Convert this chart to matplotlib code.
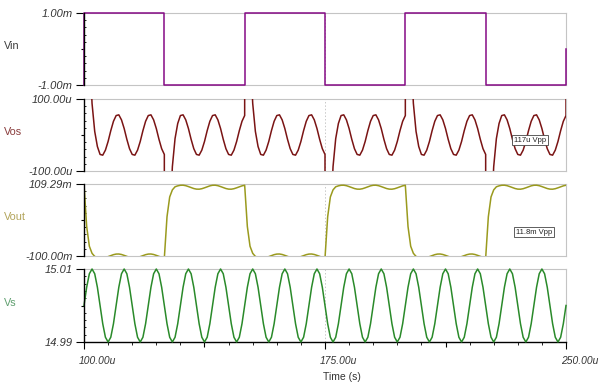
import numpy as np
import matplotlib.pyplot as plt
import matplotlib.transforms as mtransforms
from matplotlib.ticker import FixedLocator

plt.rcParams['font.family'] = ['Liberation Sans', 'DejaVu Sans']

# time in us; Vs cycle is 10 us, read at 12 points per cycle
cycle_us = 10.0
samples_per_cycle = 12
edge_times = [100, 125, 150, 175, 200, 225, 250]

# Vin (mV) between edges, and where it ends at 250u
vin_levels = [1.0, -1.0, 1.0, -1.0, 1.0, -1.0]
vin_end = 0.0

# one Vs cycle (V)
vs_cycle = [15.000, 15.005, 15.0087, 15.010, 15.0087, 15.005,
            15.000, 14.995, 14.9913, 14.990, 14.9913, 14.995]

# one Vos ripple cycle (uV) and the kick after each Vin edge (uV)
vos_cycle = [54, 56, 42, 18, -12, -38, -54, -56, -42, -18, 12, 38]
vos_kick = [900, 420, 210, 70, 22, 6, 0]

# Vout (mV): plateau levels, ripple cycle, edge response fractions
vout_levels = [-100, 100, -100, 100, -100, 100]
vout_ripple = [5.6, 5.8, 4.4, 1.8, -1.2, -3.9, -5.6, -5.8, -4.4, -1.8, 1.2, 3.9]
vout_step = [0.0, 0.6, 0.88, 0.97, 1.0]
vout_start = 109.29

x_major = [100, 137.5, 175, 212.5, 250]
x_labels = ['100.00u', '', '175.00u', '', '250.00u']


def main():
    step = cycle_us / samples_per_cycle
    n_cycles = int(round((edge_times[-1] - edge_times[0]) / cycle_us))
    t = edge_times[0] + step * np.arange(n_cycles * samples_per_cycle + 1)
    half = int(round((edge_times[1] - edge_times[0]) / step))

    # Vin as steps
    before = [-vin_levels[0]] + vin_levels
    after = vin_levels + [vin_end]
    t_vin = np.repeat(edge_times, 2)
    vin = np.ravel(np.column_stack([before, after]))

    # Vs
    vs = np.append(np.tile(vs_cycle, n_cycles), vs_cycle[0])

    # Vos
    vos_nat = np.append(np.tile(vos_cycle, n_cycles), vos_cycle[0]).astype(float)
    vos = vos_nat.copy()
    edge_idx = np.arange(len(edge_times)) * half
    for k, i0 in enumerate(edge_idx):
        s = np.sign(after[k] - before[k])
        for j, kick in enumerate(vos_kick):
            if i0 + j < len(vos):
                vos[i0 + j] += s * kick
    t_vos = np.insert(t, edge_idx[1:], t[edge_idx[1:]])
    vos = np.insert(vos, edge_idx[1:], vos_nat[edge_idx[1:]])

    # Vout
    level = np.full(len(t), float(vout_levels[-1]))
    frac = np.array(vout_step)
    for k, lvl in enumerate(vout_levels):
        prev = vout_levels[k - 1] if k else -vout_levels[0]
        seg = np.full(half, float(lvl))
        seg[:len(frac)] = prev + (lvl - prev) * frac
        level[k * half:(k + 1) * half] = seg
    vout = level + np.append(np.tile(vout_ripple, n_cycles), vout_ripple[0])
    vout[0] = vout_start

    fig = plt.figure(figsize=(6.0, 3.91), dpi=100)
    W, H = 600, 391
    left, width = 84 / W, 482 / W
    panels = [
        (13, 85, t_vin, vin, -1.0, 1.0, ['-1.00m', '1.00m'], '#850a85', 'Vin', '#3c3c3c', False),
        (99, 171, t_vos, vos, -100.0, 100.0, ['-100.00u', '100.00u'], '#7a1414', 'Vos', '#8a3c3c', True),
        (184, 256, t, vout, -100.0, 109.29, ['-100.00m', '109.29m'], '#9a9a1e', 'Vout', '#b2a45a', True),
        (269, 342, t, vs, 14.99, 15.01, ['14.99', '15.01'], '#2a8a2a', 'Vs', '#5f9f6f', False),
    ]

    grey = '#c4c4c4'
    axes = []
    for i, (top, bot, x, y, lo, hi, ylabs, col, name, ncol, clip) in enumerate(panels):
        ax = fig.add_axes([left, 1 - bot / H, width, (bot - top) / H])
        axes.append(ax)
        ax.plot(x, y, color=col, lw=1.1, clip_on=clip, zorder=3)
        ax.set_xlim(edge_times[0], edge_times[-1])
        ax.set_ylim(lo, hi)
        ax.axvline((edge_times[0] + edge_times[-1]) / 2, color='#c8c8c8',
                   lw=0.7, ls=(0, (1.5, 2)), zorder=1)

        for side in ['top', 'right', 'bottom']:
            ax.spines[side].set_color(grey)
            ax.spines[side].set_linewidth(0.8)
        ax.spines['left'].set_color('black')
        ax.spines['left'].set_linewidth(1.0)
        ax.spines['left'].set_zorder(4)

        ax.set_yticks([lo, (lo + hi) / 2, hi])
        ax.set_yticklabels([ylabs[0], '', ylabs[1]], fontstyle='italic')
        ax.yaxis.set_minor_locator(FixedLocator(np.linspace(lo, hi, 11)))
        ax.tick_params(axis='y', which='major', direction='out', length=5.6,
                       width=0.8, pad=2.5, labelsize=8, labelcolor='#333333')
        ax.tick_params(axis='y', which='minor', direction='in', length=1.6, width=0.6)
        ax.yaxis.get_major_ticks()[1].tick1line.set_markersize(2.2)

        fig.text(3.5 / W, 1 - ((top + bot) / 2 - 3) / H, name, ha='left',
                 va='center', fontsize=7.8, color=ncol)

        if i < 3:
            ax.tick_params(axis='x', which='both', bottom=False, labelbottom=False)
        else:
            ax.spines['bottom'].set_color('black')
            ax.spines['bottom'].set_linewidth(1.0)
            ax.set_xticks(x_major)
            ax.set_xticklabels([''] * len(x_major))
            ax.xaxis.set_minor_locator(FixedLocator(np.arange(100, 250.1, 7.5)))
            ax.tick_params(axis='x', which='major', direction='out', length=5.0, width=0.8)
            ax.tick_params(axis='x', which='minor', direction='out', length=2.2, width=0.6)
            for j in (1, 3):
                ax.xaxis.get_major_ticks()[j].tick1line.set_markersize(3.6)
            off = mtransforms.ScaledTranslation(-5 / 100, -19 / 100, fig.dpi_scale_trans)
            trans = mtransforms.blended_transform_factory(ax.transData, ax.transAxes) + off
            for xv, lab in zip(x_major, x_labels):
                if lab:
                    ax.text(xv, 0, lab, transform=trans, ha='left', va='center',
                            fontsize=7.4, fontstyle='italic', color='#333333',
                            clip_on=False)

    box = dict(boxstyle='square,pad=0.25', fc='white', ec='#444444', lw=0.6)
    axes[1].text(0.925, 0.43, '117u Vpp', transform=axes[1].transAxes, ha='center',
                 va='center', fontsize=5.5, color='#222222', bbox=box, zorder=5)
    axes[2].text(0.934, 0.333, '11.8m Vpp', transform=axes[2].transAxes, ha='center',
                 va='center', fontsize=5.5, color='#222222', bbox=box, zorder=5)

    fig.text(342 / W, 1 - 377 / H, 'Time (s)', ha='center', va='center',
             fontsize=7.5, color='#333333')

    fig.savefig('out.png', dpi=100)


if __name__ == '__main__':
    main()
